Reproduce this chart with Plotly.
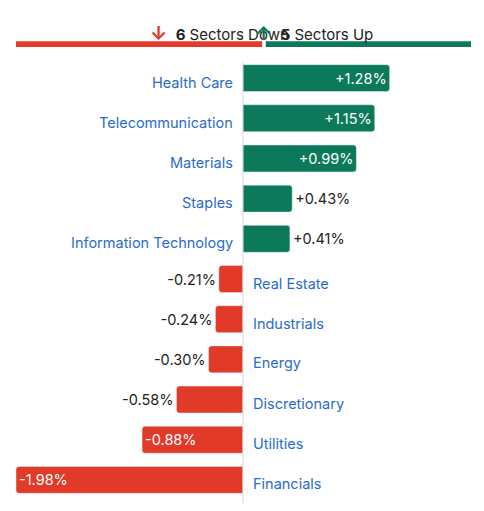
import plotly.graph_objects as go

sectors = ["Health Care", "Telecommunication", "Materials", "Staples", "Information Technology",
           "Real Estate", "Industrials", "Energy", "Discretionary", "Utilities", "Financials"]
changes = [1.28, 1.15, 0.99, 0.43, 0.41, -0.21, -0.24, -0.30, -0.58, -0.88, -1.98]
n_down = 6
n_up = 5

GREEN = "#0c7a5a"
RED = "#e23a28"
BLUE = "#2a6ccc"

labels = [("+" if v > 0 else "") + f"{v:.2f}%" for v in changes]
inside = [abs(v) >= 0.8 for v in changes]

fig = go.Figure(go.Bar(
    x=changes, y=sectors, orientation="h",
    marker=dict(color=[GREEN if v > 0 else RED for v in changes], cornerradius=3),
    width=0.67,
    text=labels,
    textposition=["inside" if i else "outside" for i in inside],
    insidetextanchor="end",
    insidetextfont=dict(color="white", size=14.5, family="Inter"),
    outsidetextfont=dict(color="#222", size=14.5, family="Inter"),
    cliponaxis=False, hoverinfo="skip",
))

for s, v in zip(sectors, changes):
    fig.add_annotation(x=0, y=s, text=s, showarrow=False,
                       xanchor="right" if v > 0 else "left",
                       xshift=-8 if v > 0 else 8, yshift=-4,
                       font=dict(color=BLUE, size=14.5, family="Inter"))

fig.add_shape(type="line", xref="x", yref="paper", x0=0, x1=0, y0=-0.02, y1=0.99,
              line=dict(color="#d8d8d8", width=1))
fig.add_shape(type="rect", xref="paper", yref="paper", x0=0, x1=0.541, y0=1.025, y1=1.038,
              fillcolor=RED, line_width=0)
fig.add_shape(type="rect", xref="paper", yref="paper", x0=0.549, x1=1, y0=1.025, y1=1.038,
              fillcolor=GREEN, line_width=0)
fig.add_annotation(xref="paper", yref="paper", x=0.29, y=1.086, showarrow=False,
                   text=f"<span style='color:{RED};font-size:19px'><b>↓</b></span>  <b>{n_down}</b> Sectors Down",
                   font=dict(size=15, family="Inter", color="#222"))
fig.add_annotation(xref="paper", yref="paper", x=0.79, y=1.086, showarrow=False,
                   text=f"<span style='color:{GREEN};font-size:19px'><b>↑</b></span>  <b>{n_up}</b> Sectors Up",
                   font=dict(size=15, family="Inter", color="#222"))

# page body adds an 8px offset, so the figure is sized to compensate
fig.update_layout(
    width=468, height=495, margin=dict(l=8, r=5, t=50, b=3),
    plot_bgcolor="white", paper_bgcolor="white", showlegend=False,
    xaxis=dict(range=[-1.98, 1.99], visible=False),
    yaxis=dict(autorange="reversed", visible=False),
)
fig.write_html("out.html")
